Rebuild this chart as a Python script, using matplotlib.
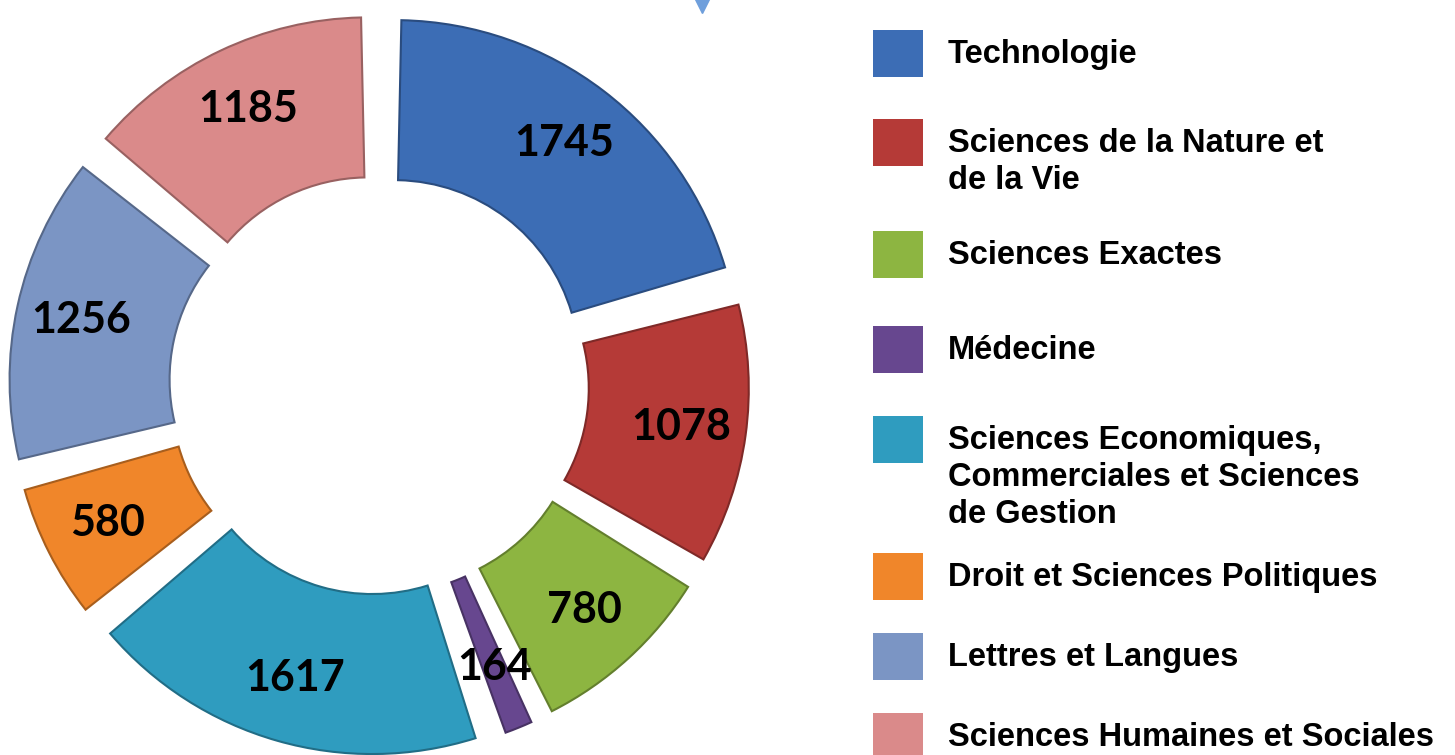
import numpy as np
import matplotlib.pyplot as plt
import matplotlib.colors as mcolors
from matplotlib.patches import Rectangle

# data
categories = [
    "Technologie",
    "Sciences de la Nature et\nde la Vie",
    "Sciences Exactes",
    "Médecine",
    "Sciences Economiques,\nCommerciales et Sciences\nde Gestion",
    "Droit et Sciences Politiques",
    "Lettres et Langues",
    "Sciences Humaines et Sociales",
]
values = [1745, 1078, 780, 164, 1617, 580, 1256, 1185]
colors = ["#3c6db5", "#b53a37", "#8db541", "#67478f",
          "#2f9cbf", "#f0862a", "#7b95c4", "#da8a8a"]

W, H = 1455, 755


def darker(c, f=0.7):
    r, g, b = mcolors.to_rgb(c)
    return (r * f, g * f, b * f)


def plot_donut(ax):
    cx, cy = 379, H - 385
    R, ring, gap = 345, 160, 25
    wedges, _ = ax.pie(values, colors=colors, startangle=90, counterclock=False,
                       center=(cx, cy), radius=R, explode=[gap] * len(values),
                       wedgeprops=dict(width=ring, linewidth=1.5))
    for w, c, v in zip(wedges, colors, values):
        # trim each piece a little so the slices stand apart
        w.set_theta1(w.theta1 + 1.2)
        w.set_theta2(w.theta2 - 1.2)
        w.set_edgecolor(darker(c))
        mid = np.deg2rad((w.theta1 + w.theta2) / 2)
        r = 305
        ax.text(cx + r * np.cos(mid), cy + r * np.sin(mid), str(v),
                ha="center", va="center", fontsize=31, fontweight="bold",
                family="Lato", color="black")


def plot_legend(ax):
    tops = [30, 119, 231, 326, 416, 553, 633, 713]
    for top, c, lab in zip(tops, colors, categories):
        ax.add_patch(Rectangle((873, H - top - 47), 50, 47, color=c, lw=0))
        for i, line in enumerate(lab.split("\n")):
            ax.text(948, H - (top + 33 + i * 37), line, ha="left", va="baseline",
                    fontsize=23.5, fontweight="bold", family="Liberation Sans",
                    color="black")


fig = plt.figure(figsize=(W / 100, H / 100), dpi=100)
ax = fig.add_axes([0, 0, 1, 1])
plot_donut(ax)
plot_legend(ax)

# small arrow tip peeking in at the top edge
ax.plot([702], [H + 2], marker="v", markersize=22, color="#6f9fdc", clip_on=True)

ax.set_xlim(0, W)
ax.set_ylim(0, H)
ax.set_aspect("equal")
ax.axis("off")
fig.savefig("out.png", dpi=100)
